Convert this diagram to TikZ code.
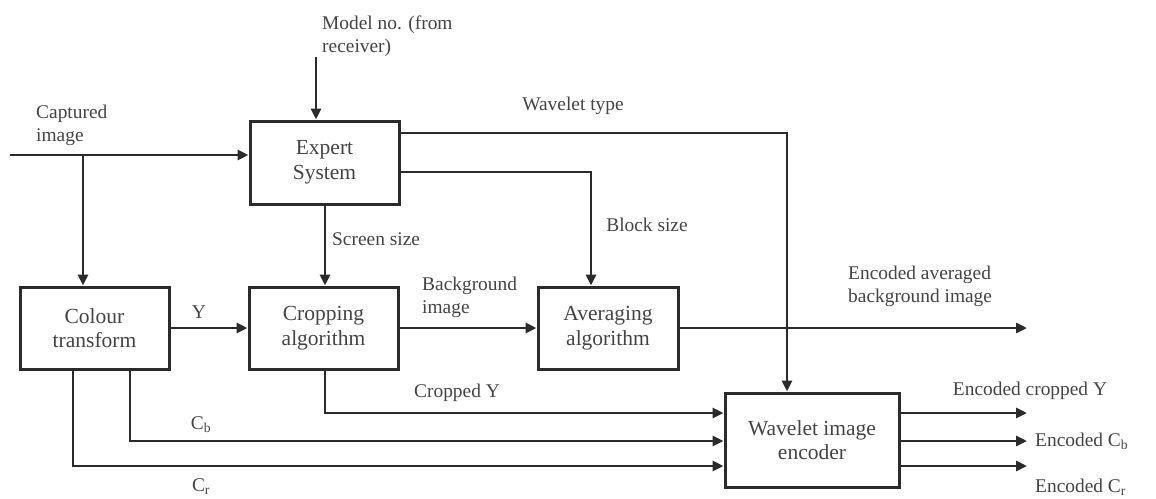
\documentclass[tikz,border=0pt]{standalone}
\usepackage{fontspec}
\setmainfont{Liberation Serif}
\usetikzlibrary{arrows.meta}
\definecolor{linec}{HTML}{2B2B2B}
\definecolor{textc}{HTML}{444444}
\tikzset{
  blk/.style={draw=linec, line width=3pt, rectangle, align=center, text=textc,
    font=\fontsize{21.5}{24.5}\selectfont, inner sep=0pt},
  lbl/.style={text=textc, font=\fontsize{19.4}{23}\selectfont, inner sep=0pt},
  conn/.style={draw=linec, line width=2.9pt},
  arr/.style={conn, -{Triangle[length=11pt,width=10pt]}}
}
\begin{document}
\begin{tikzpicture}[x=1pt,y=-1pt]
\useasboundingbox (0,0) rectangle (1156,498);
% boxes
\node[blk, minimum width=149pt, minimum height=83pt] (exp) at (324.5,162.5) {Expert\\System};
\node[blk, minimum width=149pt, minimum height=82pt] (col) at (94.5,328) {Colour\\transform};
\node[blk, minimum width=149pt, minimum height=82pt] (crop) at (323.5,328) {Cropping\\algorithm};
\node[blk, minimum width=140pt, minimum height=82pt] (avg) at (608,328) {Averaging\\algorithm};
\node[blk, minimum width=174pt, minimum height=94pt] (wav) at (812,440) {Wavelet image\\encoder};
% coordinates
\coordinate (mtop) at (316,57);
\coordinate (capin) at (10,155);
\coordinate (br) at (83,155);
\coordinate (wt) at (787,133);
\coordinate (bs) at (591,172);
\coordinate (cy) at (325,413);
\coordinate (cb) at (130,441);
\coordinate (cr) at (73,466);
\coordinate (outx) at (1027,328);
% connectors
\draw[arr] (mtop) -- (mtop |- exp.north);
\draw[arr] (capin) -- (capin -| exp.west);
\draw[arr] (br) -- (br |- col.north);
\draw[arr] (wt -| exp.east) -- (wt) -- (wt |- wav.north);
\draw[arr] (bs -| exp.east) -- (bs) -- (bs |- avg.north);
\draw[arr] (cy |- exp.south) -- (cy |- crop.north);
\draw[arr] (col.east) -- (crop.west);
\draw[arr] (crop.east) -- (avg.west);
\draw[arr] (avg.east) -- (outx);
\draw[arr] (cy |- crop.south) -- (cy) -- (cy -| wav.west);
\draw[arr] (cb |- col.south) -- (cb) -- (cb -| wav.west);
\draw[arr] (cr |- col.south) -- (cr) -- (cr -| wav.west);
\draw[arr] (cy -| wav.east) -- (cy -| outx);
\draw[arr] (cb -| wav.east) -- (cb -| outx);
\draw[arr] (cr -| wav.east) -- (cr -| outx);
% labels
\node[lbl, anchor=west, align=left] (lmodel) at (322,36) {Model no. (from\\receiver)};
\node[lbl, anchor=west, align=left] (lcap) at (36,125) {Captured\\image};
\node[lbl] (lwt) at (573,106) {Wavelet type};
\node[lbl] (lbs) at (647,225) {Block size};
\node[lbl, anchor=west] (lss) at (332,239) {Screen size};
\node[lbl] (ly) at (199,312) {Y};
\node[lbl, anchor=west, align=left] (lbg) at (422,297) {Background\\image};
\node[lbl] (lcy) at (457,393) {Cropped Y};
\node[lbl] (lcb) at (201,425) {C\textsubscript{b}};
\node[lbl] (lcr) at (201,487) {C\textsubscript{r}};
\node[lbl, anchor=west, align=left] (lea) at (848,286) {Encoded averaged\\background image};
\node[lbl] (lecy) at (1030,391) {Encoded cropped Y};
\node[lbl, anchor=west] (lecb) at (1035,441) {Encoded C\textsubscript{b}};
\node[lbl, anchor=west] (lecr) at (1035,487) {Encoded C\textsubscript{r}};
\end{tikzpicture}
\end{document}
